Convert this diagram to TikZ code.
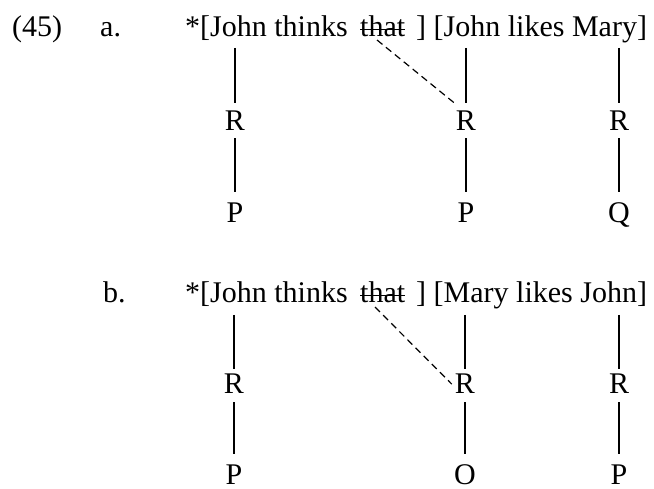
\documentclass[tikz,border=0pt]{standalone}
\usepackage{fontspec}
\setmainfont{Liberation Serif}
\usetikzlibrary{calc}
\begin{document}
\begin{tikzpicture}[x=1pt,y=1pt,
  txt/.style={font=\fontsize{30}{36}\selectfont, inner sep=0pt, anchor=base west},
  lab/.style={font=\fontsize{30}{36}\selectfont, inner sep=0pt, anchor=base},
  link/.style={line width=1.4pt},
  strike/.style={line width=1.1pt},
  dlink/.style={line width=1.2pt, dash pattern=on 7pt off 4.5pt}]
\useasboundingbox (0,0) rectangle (654,-489);

% ---------- (45) a.
\node[txt] (num) at (12,-37) {(45)};
\node[txt] (la) at (100,-37) {a.};
\node[txt] (sa1) at (185,-37) {*[John thinks};
\node[txt] (tha) at (360,-37) {that};
\node[txt] (sa2) at (416,-37) {] [John likes Mary]};
\draw[strike] ([yshift=7.5pt]tha.base west) -- ([yshift=7.5pt]tha.base east);

\node[lab] (ra1) at (235,-131) {R};
\node[lab] (ra2) at (466,-131) {R};
\node[lab] (ra3) at (619,-131) {R};
\node[lab] (pa1) at (235,-223) {P};
\node[lab] (pa2) at (466,-223) {P};
\node[lab] (pa3) at (619,-223) {Q};

\draw[link] ($(ra1.north |- sa1.base)+(0,-11)$) -- ([yshift=8pt]ra1.north);
\draw[link] ($(ra2.north |- sa2.base)+(0,-11)$) -- ([yshift=8pt]ra2.north);
\draw[link] ($(ra3.north |- sa2.base)+(0,-11)$) -- ([yshift=8pt]ra3.north);
\draw[link] ([yshift=-7pt]ra1.south) -- ([yshift=11pt]pa1.north);
\draw[link] ([yshift=-7pt]ra2.south) -- ([yshift=11pt]pa2.north);
\draw[link] ([yshift=-7pt]ra3.south) -- ([yshift=11pt]pa3.north);
\draw[dlink] ([shift={(17,-3)}]tha.base west) -- ([shift={(0,7)}]ra2.north west);

% ---------- b.
\node[txt] (lb) at (103,-303) {b.};
\node[txt] (sb1) at (185,-303) {*[John thinks};
\node[txt] (thb) at (360,-303) {that};
\node[txt] (sb2) at (416,-303) {] [Mary likes John]};
\draw[strike] ([yshift=7.5pt]thb.base west) -- ([yshift=7.5pt]thb.base east);

\node[lab] (rb1) at (234,-394) {R};
\node[lab] (rb2) at (465,-394) {R};
\node[lab] (rb3) at (619,-394) {R};
\node[lab] (pb1) at (234,-484) {P};
\node[lab] (pb2) at (465,-484) {O};
\node[lab] (pb3) at (619,-484) {P};

\draw[link] ($(rb1.north |- sb1.base)+(0,-12)$) -- ([yshift=5pt]rb1.north);
\draw[link] ($(rb2.north |- sb2.base)+(0,-12)$) -- ([yshift=5pt]rb2.north);
\draw[link] ($(rb3.north |- sb2.base)+(0,-12)$) -- ([yshift=5pt]rb3.north);
\draw[link] ([yshift=-8pt]rb1.south) -- ([yshift=10pt]pb1.north);
\draw[link] ([yshift=-8pt]rb2.south) -- ([yshift=10pt]pb2.north);
\draw[link] ([yshift=-8pt]rb3.south) -- ([yshift=10pt]pb3.north);
\draw[dlink] ([shift={(15,-4)}]thb.base west) -- ([shift={(-3,-10)}]rb2.north west);
\end{tikzpicture}
\end{document}
